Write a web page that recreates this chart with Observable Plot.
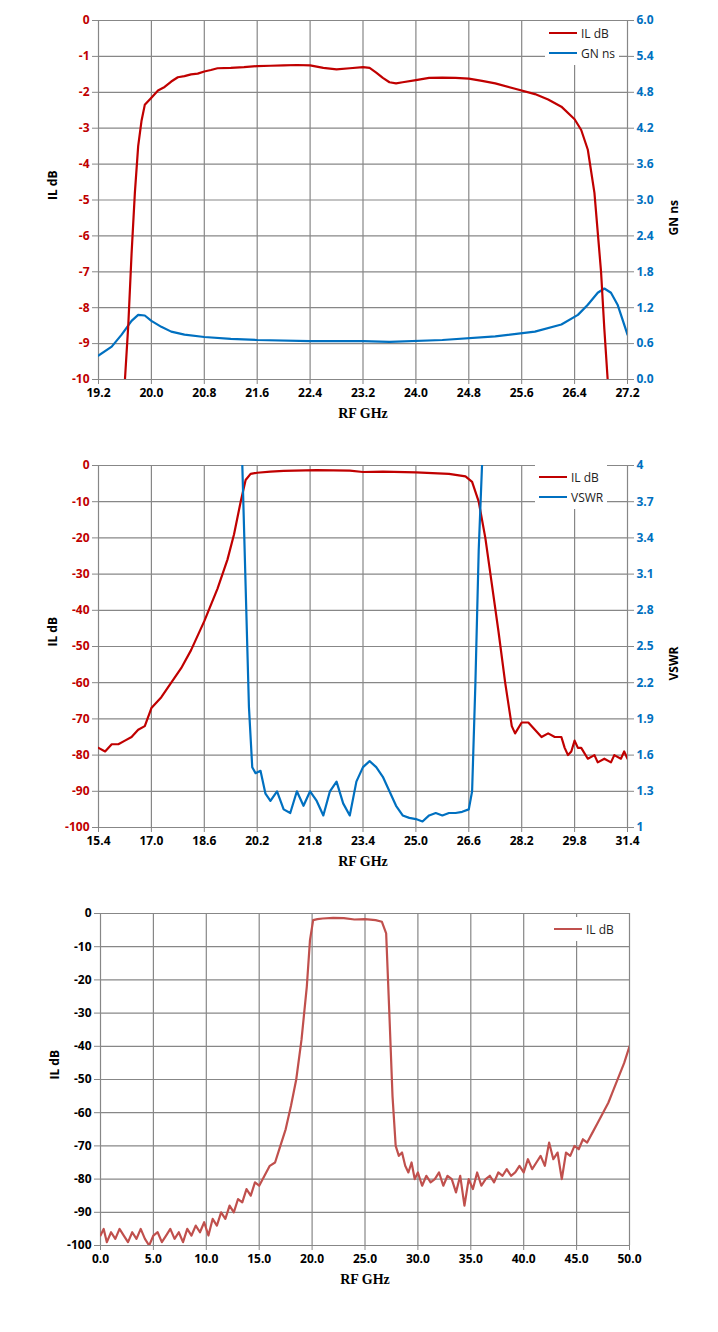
<!DOCTYPE html>
<html><head><meta charset="utf-8">
<script src="https://cdn.jsdelivr.net/npm/d3@7"></script>
<script src="https://cdn.jsdelivr.net/npm/@observablehq/plot@0.6"></script>
<style>
body{margin:0;background:#fff;font-family:"Open Sans",sans-serif}
.p{position:relative;width:718px}
.lg{position:absolute;background:#fff;font:12px "Open Sans",sans-serif;color:#222;padding:2px 4px}
.lg div{display:flex;align-items:center;height:20px}
.lg span{display:inline-block;width:28px;height:2.5px;margin-right:4px}
</style></head><body>
<div id="c"></div>
<script>
// ---------- Panel 1 ----------
const il1X=[19.6,19.65,19.7,19.75,19.8,19.85,19.9,20.0,20.1,20.2,20.3,20.4,20.5,20.6,20.7,20.8,20.9,21.0,21.2,21.4,21.6,21.8,22.0,22.2,22.4,22.6,22.8,23.0,23.2,23.3,23.4,23.5,23.6,23.7,23.8,24.0,24.2,24.4,24.6,24.8,25.0,25.2,25.5,25.8,26.0,26.2,26.4,26.5,26.6,26.7,26.8,26.85,26.9];
const il1Y=[-10,-8.5,-6.5,-4.8,-3.5,-2.8,-2.35,-2.15,-1.95,-1.85,-1.7,-1.58,-1.55,-1.5,-1.48,-1.42,-1.38,-1.33,-1.32,-1.3,-1.27,-1.26,-1.25,-1.24,-1.25,-1.32,-1.36,-1.33,-1.3,-1.32,-1.45,-1.6,-1.72,-1.75,-1.72,-1.66,-1.6,-1.59,-1.6,-1.62,-1.68,-1.75,-1.9,-2.05,-2.2,-2.4,-2.75,-3.05,-3.6,-4.8,-7.0,-8.6,-10];
const gn1X=[19.2,19.4,19.55,19.7,19.8,19.9,20.0,20.15,20.3,20.5,20.8,21.2,21.6,22.4,23.2,23.6,24.4,25.2,25.8,26.2,26.45,26.6,26.75,26.85,26.95,27.05,27.2];
const gn1Y=[0.4,0.55,0.75,0.98,1.08,1.07,0.98,0.88,0.8,0.75,0.71,0.68,0.66,0.64,0.64,0.63,0.66,0.72,0.8,0.92,1.08,1.25,1.45,1.52,1.45,1.25,0.75];
const x1Ticks=[19.2,20.0,20.8,21.6,22.4,23.2,24.0,24.8,25.6,26.4,27.2];
const y1Ticks=[0,-1,-2,-3,-4,-5,-6,-7,-8,-9,-10];
const r1Ticks=[0,0.6,1.2,1.8,2.4,3.0,3.6,4.2,4.8,5.4,6.0];
// ---------- Panel 2 ----------
const il2X=[15.4,15.6,15.8,16.0,16.2,16.4,16.6,16.8,17.0,17.3,17.6,17.9,18.2,18.6,19.0,19.3,19.5,19.7,19.85,20.0,20.2,20.6,21.0,22.0,23.0,23.4,24.0,25.0,26.0,26.5,26.7,26.9,27.1,27.3,27.5,27.7,27.9,28.0,28.2,28.4,28.6,28.8,29.0,29.2,29.4,29.5,29.6,29.7,29.8,29.9,30.0,30.2,30.4,30.5,30.7,30.9,31.0,31.2,31.3,31.4];
const il2Y=[-78,-79,-77,-77,-76,-75,-73,-72,-67,-64,-60,-56,-51,-43,-34,-26,-19,-10,-4,-2.3,-2,-1.7,-1.5,-1.3,-1.4,-1.8,-1.7,-1.9,-2.3,-3.0,-4.5,-10,-20,-33,-46,-60,-72,-74,-71,-71,-73,-75,-74,-75,-75,-78,-80,-79,-76,-78,-78,-81,-80,-82,-81,-82,-80,-81,-79,-81];
const vs2X=[19.75,19.85,19.95,20.05,20.15,20.3,20.45,20.6,20.8,21.0,21.2,21.4,21.6,21.8,22.0,22.2,22.4,22.6,22.8,23.0,23.2,23.4,23.6,23.8,24.0,24.2,24.4,24.6,24.8,25.0,25.2,25.4,25.6,25.8,26.0,26.2,26.4,26.6,26.7,26.8,26.9,27.0];
const vs2Y=[4,3.0,2.0,1.5,1.45,1.47,1.28,1.22,1.3,1.15,1.12,1.3,1.18,1.3,1.22,1.1,1.3,1.38,1.2,1.1,1.38,1.5,1.55,1.5,1.42,1.3,1.18,1.1,1.08,1.07,1.05,1.1,1.12,1.1,1.12,1.12,1.13,1.15,1.3,2.2,3.3,4];
const x2Ticks=[15.4,17.0,18.6,20.2,21.8,23.4,25.0,26.6,28.2,29.8,31.4];
const y2Ticks=[0,-10,-20,-30,-40,-50,-60,-70,-80,-90,-100];
const r2Ticks=[1,1.3,1.6,1.9,2.2,2.5,2.8,3.1,3.4,3.7,4];
// ---------- Panel 3 ----------
const il3X=[0,0.3,0.6,1,1.4,1.8,2.2,2.6,3,3.4,3.8,4.2,4.6,5,5.4,5.8,6.2,6.6,7,7.4,7.8,8.2,8.6,9,9.4,9.8,10.2,10.6,11,11.4,11.8,12.2,12.6,13,13.4,13.8,14.2,14.6,15,15.5,16,16.5,17,17.5,18,18.5,19,19.5,19.8,20.1,20.5,21,22,23,24,25,26,26.6,27,27.3,27.6,27.9,28.2,28.5,28.8,29.1,29.4,29.7,30,30.4,30.8,31.2,31.6,32,32.4,32.8,33.2,33.6,34,34.4,34.8,35.2,35.6,36,36.4,36.8,37.2,37.6,38,38.4,38.8,39.2,39.6,40,40.4,40.8,41.2,41.6,42,42.4,42.8,43.2,43.6,44,44.4,44.8,45.2,45.6,46,46.5,47,47.5,48,48.5,49,49.5,50];
const il3Y=[-97,-95,-99,-96,-98,-95,-97,-99,-96,-98,-95,-98,-100,-97,-96,-99,-97,-95,-98,-96,-99,-95,-97,-94,-96,-93,-97,-92,-94,-90,-92,-88,-90,-86,-87,-83,-85,-81,-82,-79,-76,-75,-70,-65,-58,-50,-38,-22,-8,-2,-1.7,-1.5,-1.3,-1.4,-1.8,-1.7,-2.0,-2.5,-6,-30,-55,-70,-73,-72,-76,-78,-75,-80,-78,-82,-79,-81,-80,-78,-82,-79,-80,-84,-79,-88,-80,-83,-78,-82,-80,-79,-81,-78,-79,-77,-79,-78,-76,-78,-74,-77,-75,-73,-76,-69,-74,-72,-80,-72,-73,-70,-71,-68,-69,-66,-63,-60,-57,-53,-49,-45,-40];
const x3Ticks=[0,5,10,15,20,25,30,35,40,45,50];
const y3Ticks=[0,-10,-20,-30,-40,-50,-60,-70,-80,-90,-100];

const RED="#c00000", BLUE="#0070c0", GRID="#878787";
const zip=(xs,ys)=>xs.map((x,i)=>({x,y:ys[i]}));

function panel({height,mt,mb,xd,yd,xt,yt,xf,right,lines,ml=98,mr=91,lc}){
  const marks=[
    Plot.ruleX(xt,{stroke:GRID,strokeWidth:1.2}),
    Plot.ruleY(yt,{stroke:GRID,strokeWidth:1.2}),
    Plot.axisX({ticks:xt,tickFormat:xf,tickSize:5,tickPadding:4,fontSize:12,fontWeight:"bold",stroke:GRID,label:null}),
    Plot.axisY({ticks:yt,tickFormat:d=>String(d),tickSize:6,tickPadding:3,fontSize:12,fontWeight:"bold",fill:lc,stroke:GRID,label:null}),
    Plot.text(["RF GHz"],{frameAnchor:"bottom",dy:38,fontFamily:"Liberation Serif",fontWeight:"bold",fontSize:14,fill:"#000"}),
    Plot.text(["IL dB"],{frameAnchor:"left",dx:-45,rotate:-90,fontWeight:"bold",fontSize:12,fill:"#000"})
  ];
  if(right){
    const {lo,hi,ticks,fmt,label}=right;
    const toP=v=>yd[0]+(v-lo)/(hi-lo)*(yd[1]-yd[0]);
    marks.push(Plot.axisY(ticks.map(toP),{anchor:"right",tickFormat:(d,i)=>fmt(ticks[i]),tickSize:6,tickPadding:3,fontSize:12,fontWeight:"bold",fill:BLUE,stroke:GRID,label:null}));
    marks.push(Plot.text([label],{frameAnchor:"right",dx:47,rotate:-90,fontWeight:"bold",fontSize:12,fill:"#000"}));
    lines=lines.map(l=>l.sec?{...l,data:l.data.map(d=>({x:d.x,y:toP(d.y)}))}:l);
  }
  for(const l of lines) marks.push(Plot.line(l.data,{x:"x",y:"y",stroke:l.color,strokeWidth:2.2,clip:true}));
  return Plot.plot({width:718,height,marginLeft:ml,marginRight:mr,marginTop:mt,marginBottom:mb,
    x:{domain:xd},y:{domain:yd},style:{background:"#fff",overflow:"visible",fontFamily:"Open Sans"},marks});
}
const c=document.getElementById("c");
function add(svg,leg,lx,ly){
  const d=document.createElement("div");d.className="p";d.appendChild(svg);
  const L=document.createElement("div");L.className="lg";L.style.left=lx+"px";L.style.top=ly+"px";
  L.innerHTML=leg.map(([n,col])=>`<div><span style="background:${col}"></span>${n}</div>`).join("");
  d.appendChild(L);c.appendChild(d);
}
add(panel({height:440,mt:20,mb:61,xd:[19.2,27.2],yd:[-10,0],xt:x1Ticks,yt:y1Ticks,xf:d3.format(".1f"),lc:RED,
  right:{lo:0,hi:6,ticks:r1Ticks,fmt:d3.format(".1f"),label:"GN ns"},
  lines:[{data:zip(gn1X,gn1Y),color:BLUE,sec:true},{data:zip(il1X,il1Y),color:RED}]}),
  [["IL dB",RED],["GN ns",BLUE]],545,21);
add(panel({height:445,mt:25,mb:58,xd:[15.4,31.4],yd:[-100,0],xt:x2Ticks,yt:y2Ticks,xf:d3.format(".1f"),lc:RED,
  right:{lo:1,hi:4,ticks:r2Ticks,fmt:d=>String(+d.toFixed(1)),label:"VSWR"},
  lines:[{data:zip(il2X,il2Y),color:RED},{data:zip(vs2X,vs2Y),color:BLUE,sec:true}]}),
  [["IL dB",RED],["VSWR",BLUE]],535,25);
add(panel({height:447,mt:28,mb:87,ml:100,mr:89,xd:[0,50],yd:[-100,0],xt:x3Ticks,yt:y3Ticks,xf:d3.format(".1f"),lc:"#000",
  lines:[{data:zip(il3X,il3Y),color:"#c0504d"}]}),
  [["IL dB","#c0504d"]],550,32);
</script></body></html>
